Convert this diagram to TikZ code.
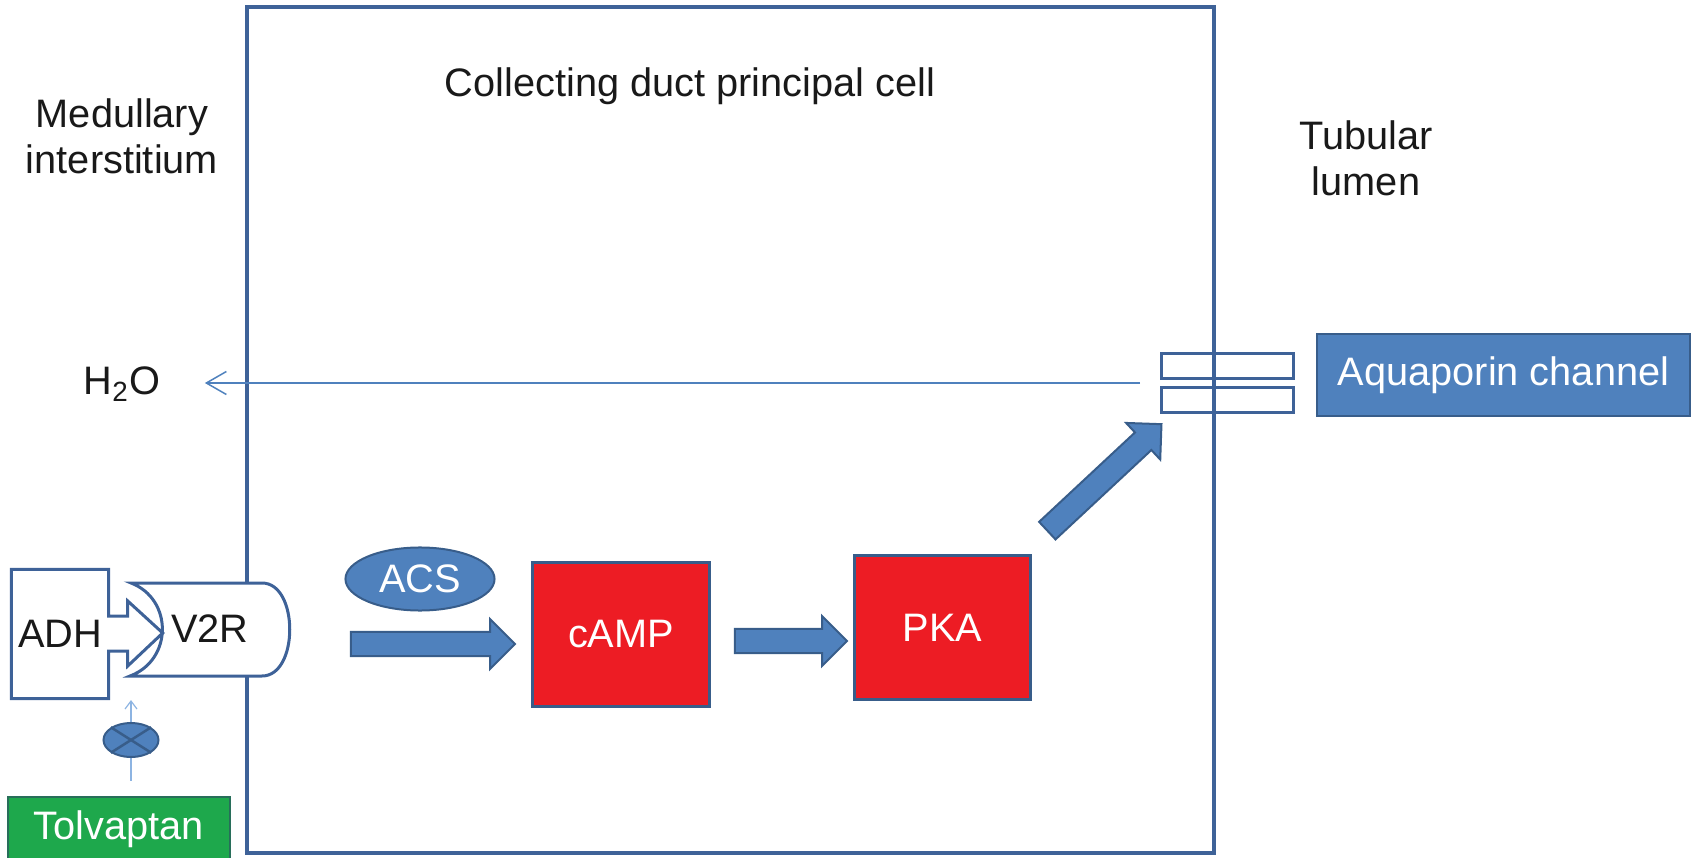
\documentclass[tikz,border=0pt]{standalone}
\usepackage{fontspec}
\setmainfont{Liberation Sans}
\usetikzlibrary{shapes.geometric,shapes.arrows,calc,arrows.meta}
\definecolor{cellline}{RGB}{62,98,152}
\definecolor{arrowblue}{RGB}{79,129,189}
\definecolor{arrowline}{RGB}{56,93,138}
\definecolor{boxred}{RGB}{237,28,36}
\definecolor{tolgreen}{RGB}{30,168,76}
\definecolor{tolline}{RGB}{40,110,90}
\definecolor{thinblue}{RGB}{141,180,226}
\definecolor{labelgray}{RGB}{25,25,25}

\begin{document}
\begin{tikzpicture}[x=0.01cm,y=-0.01cm,
  every node/.style={font=\fontsize{11.3}{13.1}\selectfont, text=labelgray},
  outl/.style={draw=cellline, line width=0.3mm},
  redbox/.style={draw=arrowline, line width=0.3mm, fill=boxred, text=white, minimum width=1.76cm, minimum height=1.43cm},
  bluebox/.style={draw=arrowline, line width=0.2mm, fill=arrowblue, text=white},
  fatarrow/.style={single arrow, draw=arrowline, line width=0.2mm, fill=arrowblue, inner sep=1.1mm, single arrow head extend=1.3mm, minimum width=4.8mm},
  waterflow/.style={draw=arrowblue, line width=0.15mm, -{Straight Barb[length=2mm,width=2.3mm]}}]
\useasboundingbox (0,0) rectangle (1691,858);

\node[draw=cellline, line width=0.4mm, minimum width=9.67cm, minimum height=8.46cm] (cell) at (730.5,430) {};
\node[anchor=base] (title) at (690,97) {Collecting duct principal cell};
\node[align=center] (med) at (122,136) {Medullary\\interstitium};
\node[align=center] (lumen) at (1366,158) {Tubular\\lumen};
\node[anchor=base] (h2o) at (122,395) {H\textsubscript{2}O};

\node[outl, inner sep=0, minimum width=1.31cm, minimum height=2.4mm] (poreA) at (1227.5,366) {};
\node[outl, inner sep=0, minimum width=1.31cm, minimum height=2.4mm] (poreB) at (1227.5,400) {};
\node[bluebox, minimum width=3.73cm, minimum height=8.2mm] (aqp) at (1503.5,375) {Aquaporin channel};
\coordinate (wsrc) at (1140,383);
\draw[waterflow, shorten >=3.2mm] (wsrc) -- (wsrc -| h2o.east);

\draw[outl, fill=white] (131,583) -- (262,583) .. controls (299,583) and (299,676) .. (262,676)
  -- (130,676) .. controls (173,660) and (173,599) .. cycle;
\node (v2r) at (210,629) {V2R};
\node[inner sep=0, minimum width=9.6mm, minimum height=1.28cm] (adh) at (60,634) {ADH};
\draw[outl] (adh.north west) -- (adh.north east) -- ($(adh.east)+(0,-18)$) -- ++(19,0) -- ++(0,-15)
  -- ++(35,32) -- ++(-35,33) -- ++(0,-15) -- ++(-19,0) -- (adh.south east) -- (adh.south west) -- cycle;

\node[draw=tolline, fill=tolgreen, text=white, line width=0.2mm, minimum width=2.22cm, minimum height=6.4mm] (tolv) at (119,829) {Tolvaptan};
\coordinate (block) at (131,700);
\draw[thinblue, line width=0.12mm, shorten <=1.5mm, -{Straight Barb[length=0.8mm,width=1.2mm]}] (tolv.north -| block) -- (block);
\node[ellipse, draw=arrowline, fill=arrowblue, line width=0.2mm, inner sep=0, minimum width=5.5mm, minimum height=3.4mm] (inh) at (131,740) {};
\draw[arrowline, line width=0.25mm] (inh.north west) -- (inh.south east) (inh.north east) -- (inh.south west);

\node[ellipse, bluebox, inner sep=0, minimum width=1.49cm, minimum height=6.3mm] (acs) at (420,579) {ACS};
\node[redbox] (camp) at (621,634.5) {cAMP};
\node[redbox, minimum width=1.75cm] (pka) at (942.5,627.5) {PKA};
\node[fatarrow, minimum height=1.64cm] (a1) at (427,644) {};
\node[fatarrow, minimum height=1.12cm] (a2) at (785,641) {};
\node[fatarrow, minimum height=1.56cm, rotate=43] (a3) at (1100,481.5) {};
\end{tikzpicture}
\end{document}
